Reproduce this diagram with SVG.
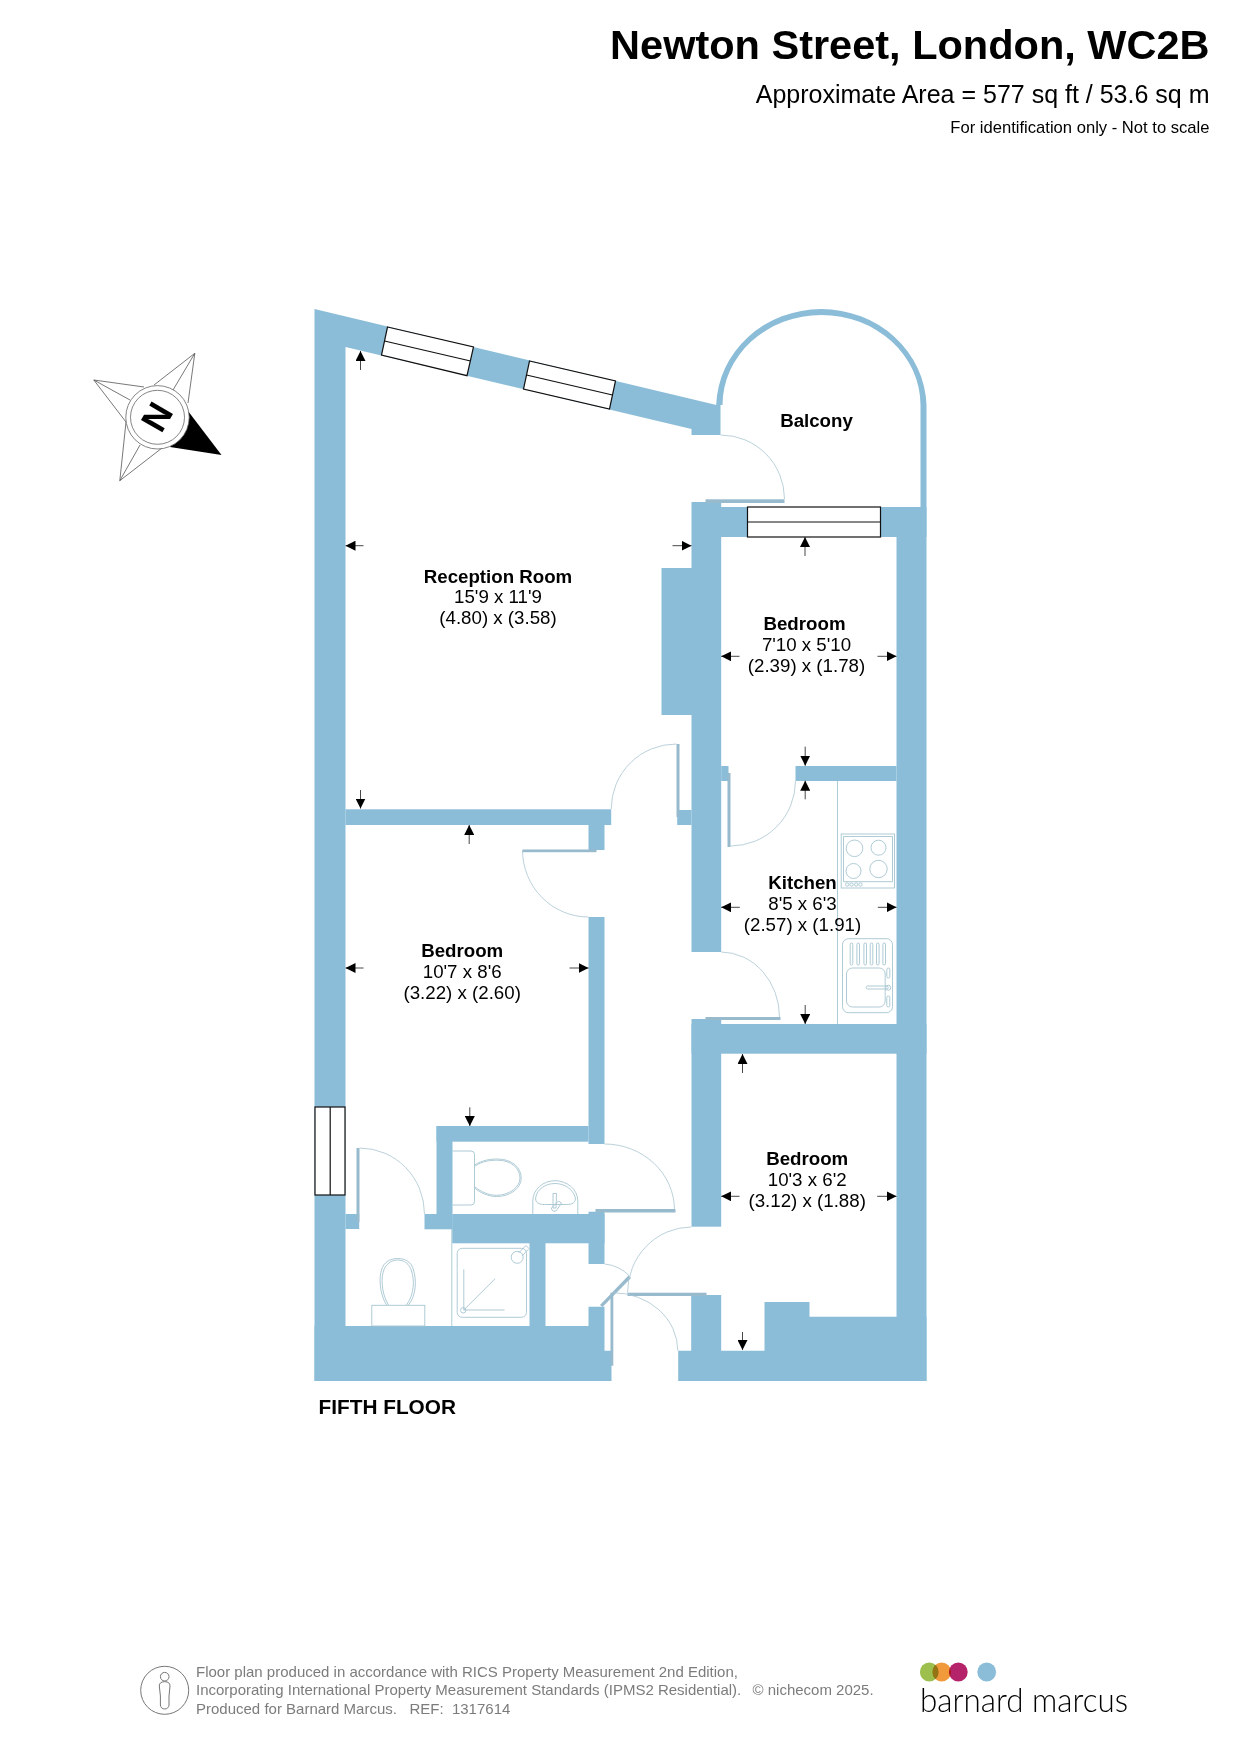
<svg xmlns="http://www.w3.org/2000/svg" width="1241" height="1755" viewBox="0 0 1241 1755">
<style>
text{font-family:"Liberation Sans",Arial,sans-serif;fill:#000}
.w{fill:#8bbdd9}
.l{fill:#97bacd}
.s{fill:none;stroke:#a9c5d1;stroke-width:.8}
.f{fill:none;stroke:#a6c5d0;stroke-width:.9}
.win{fill:#fff;stroke:#111;stroke-width:1.2}
.a{stroke:#333;stroke-width:.9;marker-end:url(#h)}
.b{font-size:18.7px;font-weight:700;text-anchor:middle}
.r{font-size:18.7px;text-anchor:middle}
.ft{font-size:15px;fill:#7c7c7c}
</style>
<defs><marker id="h" markerUnits="userSpaceOnUse" markerWidth="10" markerHeight="10" refX="10" refY="5" orient="auto"><path d="M0 0L10 5L0 10Z" fill="#000"/></marker></defs>
<rect width="1241" height="1755" fill="#fff"/>
<g id="titles">
<text x="1209.5" y="58.5" font-size="41.5" font-weight="700" text-anchor="end">Newton Street, London, WC2B</text>
<text x="1209.5" y="103" font-size="25" text-anchor="end">Approximate Area = 577 sq ft / 53.6 sq m</text>
<text x="1209.5" y="133" font-size="16.6" text-anchor="end">For identification only - Not to scale</text>
</g>
<g id="compass">
<path d="M194.8 353.3L154 385M194.8 353.3L188 403M194.8 353.3L173 390M93.8 380L144 387M93.8 380L126 422M93.8 380L130 400M119.8 480.7L126 422M119.8 480.7L162 448M119.8 480.7L140 445" fill="none" stroke="#555" stroke-width=".8"/>
<path d="M221.5 455L188 411L170 447Z" fill="#000"/>
<circle cx="157.5" cy="417.3" r="31.7" fill="#fff" stroke="#666" stroke-width=".8"/>
<circle cx="157.5" cy="417.3" r="27" fill="none" stroke="#666" stroke-width=".8"/>
<text x="0" y="0" font-size="36" font-weight="700" text-anchor="middle" transform="translate(157.5 417.3) rotate(120) translate(0 12.9)">N</text>
</g>
<g id="plan" transform="translate(.5 0)">
<g id="walls">
<polygon class="w" points="314,309 716,405 720,405 720,435 691,435 691,429 345,347 345,1381 314,1381"/>
<path class="w" d="M715.7 405A105.2 99 0 0 1 926 405V507H920V405A99 90 0 0 0 722 405Z"/>
<rect class="w" x="345" y="809.3" width="265.7" height="15.7"/>
<rect class="w" x="588" y="825" width="16" height="25"/>
<rect class="w" x="588" y="917" width="16" height="227"/>
<rect class="w" x="436" y="1126" width="152" height="15.7"/>
<rect class="w" x="436" y="1126" width="16" height="88"/>
<rect class="w" x="451.7" y="1214" width="152.3" height="29.3"/>
<rect class="w" x="424" y="1214" width="28" height="15.3"/>
<rect class="w" x="588" y="1211.7" width="16" height="52.3"/>
<rect class="w" x="529" y="1243" width="16" height="83"/>
<rect class="w" x="345" y="1214" width="13.7" height="15"/>
<polygon class="w" points="314,1326 588,1326 588,1306.7 604,1306.7 604,1350.7 612.3,1350.7 612.3,1365 611,1365 611,1381 314,1381"/>
<polygon class="w" points="691,502 720.7,502 720.7,952 691,952 691,715 661,715 661,568 691,568"/>
<rect class="w" x="720" y="507" width="206" height="30"/>
<rect class="w" x="676.7" y="810" width="14.3" height="15"/>
<rect class="w" x="720.7" y="766" width="7.3" height="15"/>
<rect class="w" x="795" y="766" width="101" height="15"/>
<rect class="w" x="896" y="507" width="30" height="874"/>
<rect class="w" x="691" y="1019" width="29.7" height="207.7"/>
<rect class="w" x="691" y="1024" width="235" height="29.7"/>
<rect class="w" x="690.7" y="1295" width="30" height="56"/>
<polygon class="w" points="677.7,1350.7 764,1350.7 764,1302 809,1302 809,1316.7 926,1316.7 926,1381 677.7,1381"/>
</g>
<g id="door-leaves">
<rect class="l" x="705" y="499.3" width="79" height="3.7"/>
<rect class="l" x="522" y="849.5" width="74" height="2.7"/>
<rect class="l" x="676" y="744" width="3" height="73"/>
<rect class="l" x="727" y="773" width="3" height="74"/>
<rect class="l" x="705" y="1017" width="75" height="3"/>
<rect class="l" x="595" y="1209" width="80" height="3.5"/>
<rect class="l" x="627" y="1292.7" width="79" height="3.3"/>
<rect class="l" x="610" y="1292.7" width="2.8" height="73"/>
<rect class="l" x="356" y="1148" width="3" height="74"/>
<polygon class="l" points="628,1275.5 630.5,1278 602,1307 599.5,1305"/>
</g>
<g id="door-swings">
<path class="s" d="M720 435A64 64 0 0 1 784 499"/>
<path class="s" d="M610.7 809A65 65 0 0 1 676 744"/>
<path class="s" d="M522 850A66 67 0 0 0 588 917"/>
<path class="s" d="M730 846A65 65 0 0 0 795 781"/>
<path class="s" d="M720.7 952A59 65 0 0 1 779 1017"/>
<path class="s" d="M359 1148A65 66 0 0 1 424 1214"/>
<path class="s" d="M604 1144A70 66 0 0 1 674 1210"/>
<path class="s" d="M690.7 1227A64 66 0 0 0 627 1292.7"/>
<path class="s" d="M612.7 1292.7A65 58 0 0 1 677.3 1350.7"/>
<path class="s" d="M604 1264A40 40 0 0 1 629 1276"/>
</g>
<g id="windows">
<polygon class="win" points="387,327 473,347 466.5,375.7 381,355"/>
<line class="win" x1="384" y1="341" x2="470" y2="361"/>
<polygon class="win" points="529,361 615,381 609,409 523,389"/>
<line class="win" x1="526" y1="375" x2="612" y2="395"/>
<rect class="win" x="747" y="507" width="133" height="30"/>
<line class="win" x1="747" y1="522" x2="880" y2="522"/>
<rect class="win" x="314.5" y="1107" width="30" height="88"/>
<line class="win" x1="329.7" y1="1107" x2="329.7" y2="1195"/>
</g>
<g id="fixtures">
<line class="f" x1="837" y1="781" x2="837" y2="1024"/>
<rect class="f" x="840.7" y="834" width="53.3" height="54"/>
<path class="f" d="M843 836.5H892V881.7H843Z"/>
<circle class="f" cx="854" cy="848.3" r="8.3"/><circle class="f" cx="878" cy="847.7" r="7.5"/><circle class="f" cx="853" cy="871" r="7.5"/><circle class="f" cx="878" cy="869" r="8.7"/>
<circle class="f" cx="846.7" cy="884.5" r="1.7"/><circle class="f" cx="851" cy="884.5" r="1.7"/><circle class="f" cx="855.7" cy="884.5" r="1.7"/><circle class="f" cx="860" cy="884.5" r="1.7"/>
<rect class="f" x="842" y="938.7" width="50" height="74" rx="6"/>
<rect class="f" x="849.7" y="943" width="2.6" height="22" rx="1.3"/><rect class="f" x="856.4" y="943" width="2.6" height="22" rx="1.3"/><rect class="f" x="863.4" y="943" width="2.6" height="22" rx="1.3"/><rect class="f" x="869.7" y="943" width="2.6" height="22" rx="1.3"/><rect class="f" x="876" y="943" width="2.6" height="22" rx="1.3"/><rect class="f" x="882.4" y="943" width="2.6" height="22" rx="1.3"/>
<rect class="f" x="846" y="968" width="38.7" height="39" rx="6"/>
<rect class="f" x="865.7" y="986" width="22" height="3" rx="1.5"/><circle class="f" cx="887.7" cy="987.7" r="2.5"/>
<rect class="f" x="886.3" y="968" width="3" height="10" rx="1.5"/><rect class="f" x="886.3" y="996" width="3" height="11" rx="1.5"/>
<path class="f" d="M452 1151H470.5A3.5 3.5 0 0 1 474 1154.5V1201.5A3.5 3.5 0 0 1 470.5 1205H452"/>
<path class="f" d="M474 1165C482 1160 490 1159 497 1159C512 1159 520.7 1168 520.7 1178C520.7 1188 510 1196.5 496 1196.5C488 1196.5 480 1193 474 1188"/>
<path class="f" d="M474.5 1166C482 1161 490 1160.2 497 1160.2C511 1160.2 519.5 1168.5 519.5 1178C519.5 1187 509 1195.3 496 1195.3C488 1195.3 481 1192 474.5 1187"/>
<path class="f" d="M532.3 1214V1201C532.3 1189 543 1180.7 554.5 1180.7C566 1180.7 577.3 1189 577.3 1201V1214"/>
<path class="f" d="M535.3 1197C537 1189 545 1183.5 554.5 1183.5C564 1183.5 572 1189 574.7 1197C576 1203 571 1204.5 566 1204.5H544C539 1204.5 534 1203 535.3 1197Z"/>
<path class="f" d="M552.5 1193.5H556L555.5 1208L552.5 1208Z"/><path class="f" d="M558 1201L561 1203L556 1210.5A3 3 0 0 1 551 1208Z"/>
<rect class="f" x="371.3" y="1305.3" width="53" height="20.7"/>
<path class="f" d="M386 1305C378 1292 379 1275 381 1270C383 1262 390 1258.5 397 1258.5C405 1258.5 411 1262 413 1270C416 1280 416 1295 408 1305"/>
<path class="f" d="M388 1305C380 1292 381 1276 383 1271C385 1264 391 1260 397 1260C404 1260 409 1264 411 1271C414 1280 414 1294 406 1305"/>
<line class="f" x1="451.3" y1="1229" x2="451.3" y2="1326"/>
<rect class="f" x="456.7" y="1248.3" width="69.3" height="69" rx="5"/>
<circle class="f" cx="516.7" cy="1257.3" r="6"/><path class="f" d="M518 1253L525.5 1245.5L528.5 1248.5L521.5 1256"/>
<path class="f" d="M463.3 1269.3V1310H504M463.3 1310L494.7 1278.7"/><circle class="f" cx="462.7" cy="1310.3" r="2.7"/>
</g>
<g id="dimension-arrows">
<line class="a" x1="360" y1="370" x2="360" y2="351"/>
<line class="a" x1="363" y1="545.7" x2="345" y2="545.7"/>
<line class="a" x1="672" y1="545.7" x2="691" y2="545.7"/>
<line class="a" x1="360" y1="790" x2="360" y2="808.5"/>
<line class="a" x1="804.5" y1="556" x2="804.5" y2="537"/>
<line class="a" x1="739" y1="656.3" x2="720.7" y2="656.3"/>
<line class="a" x1="877" y1="656.3" x2="896" y2="656.3"/>
<line class="a" x1="804.7" y1="746.7" x2="804.7" y2="765.7"/>
<line class="a" x1="804.7" y1="799.3" x2="804.7" y2="780.7"/>
<line class="a" x1="739.3" y1="907.3" x2="720.7" y2="907.3"/>
<line class="a" x1="877.3" y1="907.3" x2="896" y2="907.3"/>
<line class="a" x1="804.7" y1="1005" x2="804.7" y2="1024"/>
<line class="a" x1="742" y1="1073" x2="742" y2="1054"/>
<line class="a" x1="739" y1="1196.3" x2="720.7" y2="1196.3"/>
<line class="a" x1="876.7" y1="1196.3" x2="896" y2="1196.3"/>
<line class="a" x1="742" y1="1332" x2="742" y2="1350"/>
<line class="a" x1="468.7" y1="844" x2="468.7" y2="825"/>
<line class="a" x1="363" y1="968" x2="345" y2="968"/>
<line class="a" x1="569" y1="968" x2="588" y2="968"/>
<line class="a" x1="469.3" y1="1107.3" x2="469.3" y2="1126"/>
</g>
<g id="labels">
<text class="b" x="816" y="427">Balcony</text>
<text class="b" x="497.5" y="582.5">Reception Room</text><text class="r" x="497.5" y="603">15'9 x 11'9</text><text class="r" x="497.5" y="623.5">(4.80) x (3.58)</text>
<text class="b" x="804" y="629.5">Bedroom</text><text class="r" x="806" y="651">7'10 x 5'10</text><text class="r" x="806" y="672">(2.39) x (1.78)</text>
<text class="b" x="802" y="889.3">Kitchen</text><text class="r" x="802" y="910">8'5 x 6'3</text><text class="r" x="802" y="930.7">(2.57) x (1.91)</text>
<text class="b" x="806.7" y="1165">Bedroom</text><text class="r" x="806.7" y="1185.7">10'3 x 6'2</text><text class="r" x="806.7" y="1206.7">(3.12) x (1.88)</text>
<text class="b" x="461.7" y="957">Bedroom</text><text class="r" x="461.7" y="977.5">10'7 x 8'6</text><text class="r" x="461.7" y="998.5">(3.22) x (2.60)</text>
<text x="318" y="1414" font-size="20.8" font-weight="700">FIFTH FLOOR</text>
</g>
</g>
<g id="footer">
<circle cx="164.7" cy="1690.3" r="24" fill="none" stroke="#777" stroke-width="1"/>
<circle cx="164.7" cy="1676.7" r="4.3" fill="none" stroke="#777" stroke-width="1"/>
<path d="M159.3 1686Q159.3 1681.7 164.7 1681.7Q170 1681.7 170 1686L169 1696V1705A4.3 4 0 0 1 160.4 1705V1696Z" fill="none" stroke="#777" stroke-width="1"/>
<text class="ft" x="196" y="1677.2">Floor plan produced in accordance with RICS Property Measurement 2nd Edition,</text>
<text class="ft" x="196" y="1695.2">Incorporating International Property Measurement Standards (IPMS2 Residential).</text>
<text class="ft" x="752.5" y="1695.2">© nichecom 2025.</text>
<text class="ft" x="196" y="1713.7" xml:space="preserve">Produced for Barnard Marcus.   REF:  1317614</text>
</g>
<g id="logo">
<circle cx="929.3" cy="1672" r="9.4" fill="#9dbf4e"/>
<circle cx="941.7" cy="1672" r="9.4" fill="#f09a3c" style="mix-blend-mode:multiply"/>
<circle cx="958.3" cy="1672" r="9.4" fill="#b5246a" style="mix-blend-mode:multiply"/>
<circle cx="986.7" cy="1672" r="9.4" fill="#8bbdd9"/>
<text x="920" y="1712.3" font-size="33" font-weight="300" style="font-family:Lato,'Open Sans',sans-serif" fill="#222" textLength="208" lengthAdjust="spacingAndGlyphs">barnard marcus</text>
</g>
</svg>
